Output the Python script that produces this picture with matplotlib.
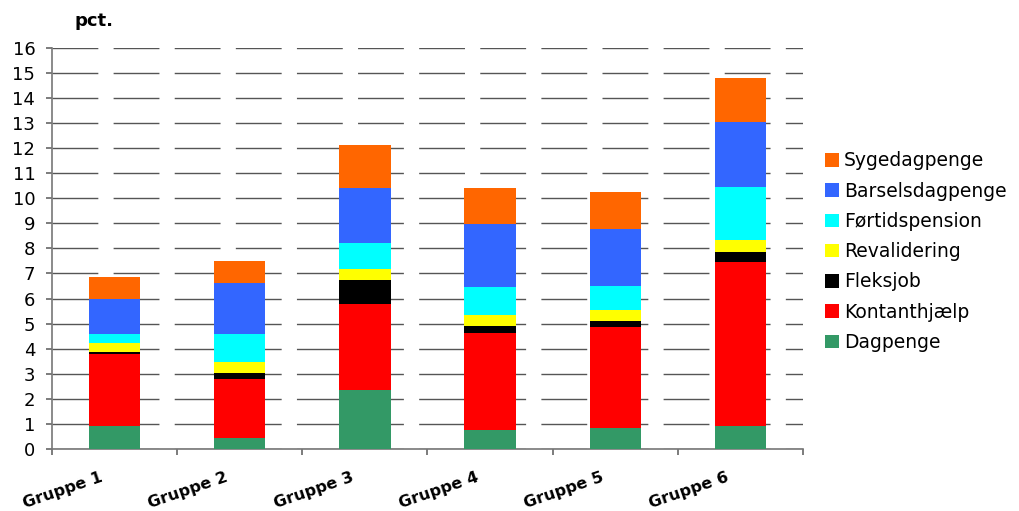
import matplotlib
matplotlib.use("Agg")
import matplotlib.pyplot as plt
import matplotlib.transforms as mtrans
import numpy as np

# data (pct.)
grupper = ["Gruppe 1", "Gruppe 2", "Gruppe 3", "Gruppe 4", "Gruppe 5", "Gruppe 6"]
dagpenge = [0.93, 0.44, 2.35, 0.76, 0.84, 0.92]
kontanthjaelp = [2.87, 2.36, 3.44, 3.86, 4.02, 6.53]
fleksjob = [0.07, 0.23, 0.94, 0.28, 0.24, 0.40]
revalidering = [0.36, 0.44, 0.44, 0.44, 0.44, 0.48]
fortidspension = [0.36, 1.11, 1.04, 1.11, 0.95, 2.11]
barselsdagpenge = [1.40, 2.03, 2.18, 2.53, 2.27, 2.59]
sygedagpenge = [0.87, 0.88, 1.71, 1.42, 1.48, 1.75]

serier = [
    ("Dagpenge", dagpenge, "#339966"),
    ("Kontanthjælp", kontanthjaelp, "#ff0000"),
    ("Fleksjob", fleksjob, "#000000"),
    ("Revalidering", revalidering, "#ffff00"),
    ("Førtidspension", fortidspension, "#00ffff"),
    ("Barselsdagpenge", barselsdagpenge, "#3366ff"),
    ("Sygedagpenge", sygedagpenge, "#ff6600"),
]

fig = plt.figure(figsize=(10.19, 5.11), dpi=100)
ax = fig.add_axes([0.051, 0.121, 0.737, 0.786])

x = np.arange(len(grupper))
bund = np.zeros(len(grupper))
for navn, vals, farve in serier:
    ax.bar(x, vals, 0.41, bottom=bund, color=farve, label=navn, zorder=3)
    bund += np.array(vals)

ax.set_xlim(-0.5, len(grupper) - 0.5)
ax.set_ylim(0, 16)
ax.set_yticks(range(0, 17))
ax.tick_params(axis="y", labelsize=13, length=4.5, width=1.2, color="#666666", pad=7.5)

# ticks between categories, labels under the bars
ax.set_xticks(np.arange(-0.5, len(grupper)), minor=False)
ax.set_xticklabels([])
ax.set_xticks(x, minor=True)
ax.set_xticklabels(grupper, minor=True, rotation=19, ha="right",
                   rotation_mode="anchor", fontsize=11.5, fontweight="bold")
ax.tick_params(axis="x", which="major", length=4, width=1.2, color="#666666")
ax.tick_params(axis="x", which="minor", length=0, pad=15)
skift = mtrans.ScaledTranslation(-10.5 / 72, 0, fig.dpi_scale_trans)
for t in ax.get_xticklabels(minor=True):
    t.set_transform(t.get_transform() + skift)

ax.yaxis.grid(True, color="#555555", linewidth=1, zorder=0)
for gl in ax.get_ygridlines():
    gl.set_dashes([33, 11])

for side in ["top", "right"]:
    ax.spines[side].set_visible(False)
ax.spines["left"].set_color("#777777")
ax.spines["bottom"].set_color("#777777")
ax.spines["left"].set_linewidth(1.2)
ax.spines["bottom"].set_linewidth(1.2)

fig.text(0.073, 0.958, "pct.", fontsize=13, fontweight="bold", va="center")

h, l = ax.get_legend_handles_labels()
ax.legend(h[::-1], l[::-1], loc="upper left", bbox_to_anchor=(1.02, 0.76),
          frameon=False, fontsize=13.5, handlelength=0.72, handleheight=0.72,
          handletextpad=0.25, labelspacing=0.6, borderaxespad=0)

fig.savefig("out.png", dpi=100)
